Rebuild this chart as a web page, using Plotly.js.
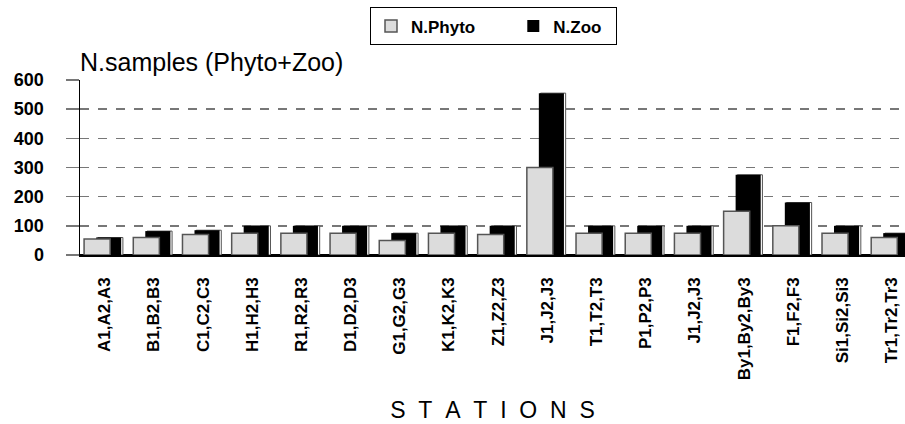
<!DOCTYPE html>
<html>
<head>
<meta charset="utf-8">
<script src="https://cdn.plot.ly/plotly-3.0.1.min.js"></script>
<style>html,body{margin:0;padding:0;background:#fff;}#chart{width:905px;height:424px;}</style>
</head>
<body>
<div id="chart"></div>
<script>
const stations = ['A1,A2,A3','B1,B2,B3','C1,C2,C3','H1,H2,H3','R1,R2,R3','D1,D2,D3','G1,G2,G3','K1,K2,K3','Z1,Z2,Z3','J1,J2,J3','T1,T2,T3','P1,P2,P3','J1,J2,J3','By1,By2,By3','F1,F2,F3','Si1,Si2,Si3','Tr1,Tr2,Tr3'];
const nPhyto = [55,60,70,75,75,75,50,75,70,300,75,75,75,150,100,75,60];
const nZoo   = [60,82,85,100,100,100,75,100,100,555,100,100,100,275,180,100,75];
const yTicks = [0,100,200,300,400,500,600];

const idx = stations.map((_, i) => i);
const FONT = 'Arial, "Liberation Sans", sans-serif';
const PAD = '\u00a0'.repeat(7);

const traces = [
  {type:'bar', x: idx, y: nZoo, name:'frame', showlegend:false, hoverinfo:'skip',
   width:0.51, offset:-0.138, marker:{color:'#ffffff', line:{color:'#555', width:1}}},
  {type:'bar', x: idx, y: nZoo, name:'N.Zoo' + '\u00a0\u00a0', legendrank:2,
   width:0.51, offset:-0.173, marker:{color:'#000000', line:{color:'#000', width:0}}},
  {type:'bar', x: idx, y: nPhyto, name:'N.Phyto' + PAD, legendrank:1,
   width:0.53, offset:-0.417, marker:{color:'#dcdcdc', line:{color:'#555', width:1.5}}}
];

const layout = {
  width:905, height:424,
  margin:{l:80, r:0, t:80, b:169},
  paper_bgcolor:'#fff', plot_bgcolor:'#fff',
  barmode:'overlay',
  font:{family:FONT, color:'#000'},
  title:{text:'N.samples (Phyto+Zoo)', font:{family:FONT, size:25, color:'#000'},
         x:80/905, xref:'container', xanchor:'left', y:1-62/424, yref:'container', yanchor:'middle'},
  showlegend:true,
  legend:{orientation:'h', x:(370-80)/825, xanchor:'left', y:1.415, yanchor:'top',
          bordercolor:'#000', borderwidth:1, bgcolor:'#fff',
          font:{family:FONT, size:17, weight:'bold', color:'#000'}},
  xaxis:{range:[-0.5,16.27], tickvals: idx, ticktext: stations, tickangle:-90,
         tickfont:{family:FONT, size:17, weight:'bold'}, ticks:'', ticklabelstandoff:14,
         showline:true, linecolor:'#000', linewidth:1.5, showgrid:false, zeroline:false,
         title:{text:'S\u00a0\u00a0T\u00a0\u00a0A\u00a0\u00a0T\u00a0\u00a0I\u00a0\u00a0O\u00a0\u00a0N\u00a0\u00a0S', font:{family:FONT, size:23}, standoff:22}},
  yaxis:{range:[0,600], tickvals:yTicks, ticktext:yTicks.map(String),
         tickfont:{family:FONT, size:18, weight:'bold'}, ticks:'outside', ticklen:13, tickcolor:'#777', tickwidth:1.5,
         ticklabelstandoff:18,
         showgrid:true, gridcolor:'#777', gridwidth:1.5, griddash:'dash',
         zeroline:true, zerolinecolor:'#000', zerolinewidth:1.5,
         showline:true, linecolor:'#000', linewidth:1.5}
};

Plotly.newPlot('chart', traces, layout, {displayModeBar:false, staticPlot:true});
</script>
</body>
</html>
